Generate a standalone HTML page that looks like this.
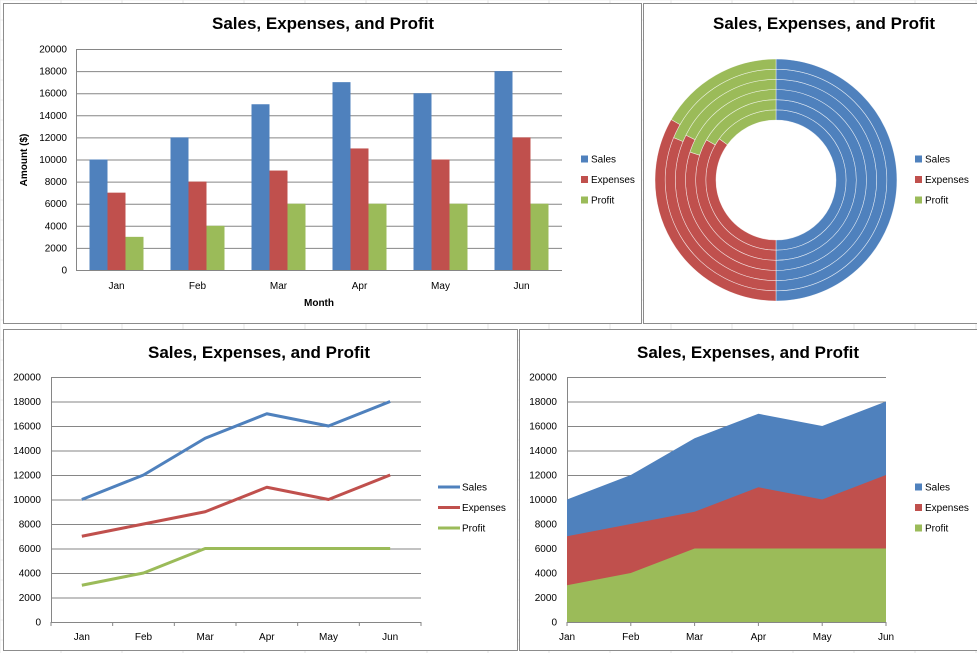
<!DOCTYPE html>
<html><head><meta charset="utf-8">
<style>
html,body{margin:0;padding:0;background:#fff;}
body{width:977px;height:653px;overflow:hidden;position:relative;font-family:"Liberation Sans",Arial,sans-serif;}
svg text{font-family:"Liberation Sans",Arial,sans-serif;}
</style></head>
<body>
<svg id="s" width="977" height="653" viewBox="0 0 977 653" xmlns="http://www.w3.org/2000/svg"></svg>
<script>
const months = ["Jan","Feb","Mar","Apr","May","Jun"];
const sales = [10000,12000,15000,17000,16000,18000];
const expenses = [7000,8000,9000,11000,10000,12000];
const profit = [3000,4000,6000,6000,6000,6000];
const yTicks = [0,2000,4000,6000,8000,10000,12000,14000,16000,18000,20000];
const seriesNames = ["Sales","Expenses","Profit"];
const colors = ["#4f81bd","#c0504d","#9bbb59"];
const yMax = 20000;

const NS="http://www.w3.org/2000/svg";
const svg=document.getElementById('s');
function mk(tag,attrs,parent,txt){const e=document.createElementNS(NS,tag);for(const k in attrs)e.setAttribute(k,attrs[k]);if(txt!==undefined)e.textContent=txt;(parent||svg).appendChild(e);return e;}
const series=[sales,expenses,profit];

// faint spreadsheet grid background
const bg=mk('g',{});


for(let x=0;x<977;x+=61) mk('line',{x1:x,y1:0,x2:x,y2:653,stroke:'#e4e4e4','stroke-width':1},bg);
for(let y=0;y<653;y+=20) mk('line',{x1:0,y1:y,x2:977,y2:y,stroke:'#ececec','stroke-width':1},bg);

function panel(name,x,y,w,h){
  const g=mk('g',{});
  
  
  mk('rect',{x:x+0.5,y:y+0.5,width:w,height:h,fill:'#fff',stroke:'#8c8c8c','stroke-width':1},g);
  return g;
}
function title(g,cx,y){
  const t=mk('text',{x:cx,y:y,'text-anchor':'middle','font-size':17,'font-weight':'bold',fill:'#000'},g,'Sales, Expenses, and Profit');
  
  
}
function yAxis(g,L,R,T,B,labX){
  const ys=v=>B-(v/yMax)*(B-T);
  yTicks.forEach(v=>{
    mk('line',{x1:L,x2:R,y1:ys(v)+0.5,y2:ys(v)+0.5,stroke:'#868686','stroke-width':1},g);
    const t=mk('text',{x:labX,y:ys(v)+3.5,'text-anchor':'end','font-size':10,fill:'#000'},g,String(v));
    
    
  });
  mk('line',{x1:L+0.5,x2:L+0.5,y1:T,y2:B,stroke:'#868686'},g);
  return ys;
}
function legend(g,x,y0,type){
  seriesNames.forEach((n,i)=>{
    const y=y0+i*20.5;
    const lg=mk('g',{},g);
    
    
    if(type==='line') mk('line',{x1:x,x2:x+22,y1:y,y2:y,stroke:colors[i],'stroke-width':3},lg);
    else mk('rect',{x:x,y:y-3.5,width:7,height:7,fill:colors[i]},lg);
    mk('text',{x:x+(type==='line'?24:10),y:y+3.5,'font-size':10,fill:'#000'},lg,n);
  });
}

// ---------- Panel 1: column chart ----------
{
  const g=panel('column-chart',3,3,638,320);
  title(g,323,29);
  const L=76,R=562,T=49,B=270;
  const ys=yAxis(g,L,R,T,B,67);
  const bw=(R-L)/months.length;
  series.forEach((arr,si)=>{
    arr.forEach((v,i)=>{
      const x=L+bw*i+bw/2-27+si*18;
      const r=mk('rect',{x:x,y:ys(v),width:18,height:B-ys(v),fill:colors[si]},g);
      
      
    });
  });
  mk('line',{x1:L,x2:R,y1:B+0.5,y2:B+0.5,stroke:'#868686'},g);
  months.forEach((m,i)=>{
    const t=mk('text',{x:L+bw*i+bw/2,y:289,'text-anchor':'middle','font-size':10,fill:'#000'},g,m);
    
    
  });
  const xt=mk('text',{x:319,y:306,'text-anchor':'middle','font-size':10,'font-weight':'bold'},g,'Month');
  
  
  const yt=mk('text',{x:0,y:0,'text-anchor':'middle','font-size':10,'font-weight':'bold',transform:'translate(27,160) rotate(-90)'},g,'Amount ($)');
  
  
  legend(g,581,159,'box');
}

// ---------- Panel 2: donut ----------
{
  const g=panel('donut-chart',643,3,340,320);
  title(g,824,29);
  const cx=776,cy=180,rOut=121,rIn=60;
  const ringW=(rOut-rIn)/months.length;
  function arc(r0,r1,a0,a1){
    const p=(r,a)=>[cx+r*Math.sin(a),cy-r*Math.cos(a)];
    const lg=(a1-a0)>Math.PI?1:0;
    const [x0,y0]=p(r1,a0),[x1,y1]=p(r1,a1),[x2,y2]=p(r0,a1),[x3,y3]=p(r0,a0);
    return `M${x0},${y0}A${r1},${r1} 0 ${lg} 1 ${x1},${y1}L${x2},${y2}A${r0},${r0} 0 ${lg} 0 ${x3},${y3}Z`;
  }
  months.forEach((m,i)=>{
    const tot=sales[i]+expenses[i]+profit[i];
    let a=0;
    const r0=rIn+i*ringW,r1=r0+ringW;
    series.forEach((arr,si)=>{
      const da=arr[i]/tot*2*Math.PI;
      const p=mk('path',{d:arc(r0,r1,a,a+da),fill:colors[si],stroke:'#ffffff','stroke-width':0.6,'stroke-opacity':0.7},g);
      
      
      a+=da;
    });
  });
  legend(g,915,159,'box');
}

// ---------- Panel 3: line chart ----------
{
  const g=panel('line-chart',3,329,514,321);
  title(g,259,358);
  const L=51,R=421,T=377,B=622;
  const ys=yAxis(g,L,R,T,B,41);
  const bw=(R-L)/months.length;
  const xs=i=>L+bw*i+bw/2;
  for(let i=0;i<=months.length;i++) mk('line',{x1:L+bw*i,x2:L+bw*i,y1:B,y2:B+4,stroke:'#868686'},g);
  months.forEach((m,i)=>{
    const t=mk('text',{x:xs(i),y:640,'text-anchor':'middle','font-size':10},g,m);
    
    
  });
  series.forEach((arr,si)=>{
    const pl=mk('polyline',{points:arr.map((v,i)=>xs(i)+','+ys(v)).join(' '),fill:'none',stroke:colors[si],'stroke-width':3,'stroke-linejoin':'round'},g);
    
    
  });
  legend(g,438,487,'line');
}

// ---------- Panel 4: area chart ----------
{
  const g=panel('area-chart',519,329,460,321);
  title(g,748,358);
  const L=567,R=886,T=377,B=622;
  const ys=yAxis(g,L,R,T,B,557);
  const step=(R-L)/(months.length-1);
  const xs=i=>L+step*i;
  months.forEach((m,i)=>{
    mk('line',{x1:xs(i),x2:xs(i),y1:B,y2:B+4,stroke:'#868686'},g);
    const t=mk('text',{x:xs(i),y:640,'text-anchor':'middle','font-size':10},g,m);
    
    
  });
  series.forEach((arr,si)=>{
    const pts=arr.map((v,i)=>xs(i)+','+ys(v));
    pts.push(xs(months.length-1)+','+B, xs(0)+','+B);
    const p=mk('polygon',{points:pts.join(' '),fill:colors[si]},g);
    
    
  });
  legend(g,915,487,'box');
}
</script>
</body></html>
